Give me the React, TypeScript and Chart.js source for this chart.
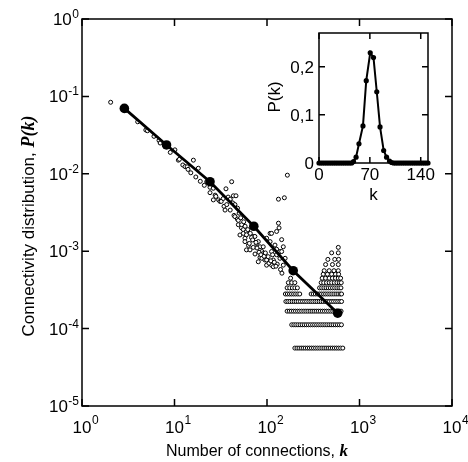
import { useEffect, useRef } from "react";
import { Chart, registerables } from "chart.js";
Chart.register(...registerables);

const W = 468;
const H = 462;

// ---------- main panel data ----------
const xTickVals = [1, 10, 100, 1000, 10000];
const xTickExp = ["0", "1", "2", "3", "4"];
const yTickVals = [1, 0.1, 0.01, 0.001, 0.0001, 0.00001];
const yTickExp = ["0", "-1", "-2", "-3", "-4", "-5"];

// binned fit (large dots joined by line)
const fitK = [2.87, 8.2, 24.2, 72, 192, 581];
const fitP = [0.07, 0.0236, 0.0079, 0.0021, 0.00056, 0.000158];

// individual degrees (small open circles)
const scatterK = [
  2.04, 3, 4, 4.9, 5.1, 6, 6.8, 7, 9, 10.1, 11, 11.3, 12.3, 13, 13.7, 14, 15, 16, 17, 18.1, 19, 21, 22.3,
  24.2, 24.2, 26.3, 26.3, 27.5, 28, 30, 31, 32, 33.7, 34.3, 35.2, 36, 36.7, 39.8, 40, 41.5, 42.6, 43.3,
  44, 45, 46.2, 47.8, 49, 49, 51, 53, 53.2, 55.5, 55.5, 57.8, 57.8, 60, 60, 60, 63, 64.4, 65.5, 71, 71.1,
  74, 74.2, 77, 80.5, 80.5, 84, 84, 88, 88, 91, 91, 95, 99, 99, 99, 103, 108, 108, 112, 112, 112, 117, 117,
  122, 127, 127, 127, 129, 133, 133, 135, 138, 138, 144, 144, 150, 150, 154, 157, 166,
  38, 40, 45, 48, 50, 52, 56, 58, 62, 66, 68, 70, 76, 78, 82, 86, 93, 96, 105, 110, 115, 120, 125, 140, 145,
];
const scatterP = [
  0.084, 0.066, 0.047, 0.0368, 0.036, 0.0305, 0.027, 0.025, 0.0189, 0.0204, 0.015, 0.0154, 0.013, 0.0124,
  0.0123, 0.0114, 0.0103, 0.015, 0.0091, 0.0118, 0.008, 0.0071, 0.0079, 0.0067, 0.0057, 0.0046, 0.0065,
  0.0053, 0.0051, 0.0046, 0.0044, 0.0044, 0.0048, 0.0038, 0.0034, 0.0064, 0.004, 0.0046, 0.0034, 0.0079,
  0.0042, 0.0052, 0.0029, 0.0028, 0.0052, 0.0026, 0.0022, 0.0025, 0.00162, 0.002, 0.0022, 0.0019, 0.0017,
  0.00147, 0.00133, 0.0018, 0.00163, 0.00104, 0.00119, 0.00126, 0.00104, 0.00155, 0.00112, 0.00155,
  0.00092, 0.00126, 0.00073, 0.00133, 0.00083, 0.00114, 0.00099, 0.00081, 0.00114, 0.00093, 0.00077,
  0.00066, 0.00147, 0.00077, 0.00085, 0.00133, 0.0017, 0.00099, 0.0017, 0.00066, 0.00063, 0.00077, 0.0012,
  0.00106, 0.0018, 0.0009, 0.00068, 0.0023, 0.0047, 0.002, 0.00081, 0.00099, 0.00099, 0.00141, 0.00066,
  0.00114, 0.0049, 0.00081, 0.0096,
  0.005, 0.0047, 0.004, 0.0036, 0.0031, 0.0027, 0.0024, 0.0021, 0.0019, 0.0017, 0.0015, 0.0014, 0.0013,
  0.0011, 0.00097, 0.0009, 0.00086, 0.00095, 0.0007, 0.00075, 0.0009, 0.00072, 0.00064, 0.00058, 0.00052,
];

// horizontal bands at large k: one, two, three ... nodes per degree
const rowP = [
  5.6e-5, 1.12e-4, 1.68e-4, 2.24e-4, 2.8e-4, 3.36e-4, 3.92e-4, 4.48e-4, 5.04e-4, 5.6e-4, 6.72e-4, 7.84e-4,
  9.52e-4, 1.12e-3,
];
const rowK = [
  [200, 211, 222, 234, 246, 259, 273, 287, 302, 318, 335, 353, 372, 392, 413, 435, 458, 482, 508, 535, 563, 593, 625, 660],
  [185, 195, 205, 216, 228, 240, 253, 266, 280, 295, 311, 327, 344, 362, 381, 401, 422, 444, 468, 493, 519, 547, 576, 606, 638],
  [165, 174, 183, 193, 203, 214, 225, 237, 250, 263, 277, 292, 307, 323, 340, 358, 377, 397, 418, 440, 463, 488, 514, 541, 570, 600, 632],
  [160, 168, 177, 187, 197, 207, 218, 230, 242, 255, 268, 283, 298, 313, 330, 347, 366, 385, 405, 427, 449, 473, 498, 524, 552, 581, 612, 640],
  [158, 166, 175, 184, 194, 204, 215, 226, 300, 316, 333, 350, 369, 388, 409, 430, 453, 477, 502, 529, 557, 586, 617, 640],
  [165, 176, 188, 200, 213, 370, 390, 412, 435, 459, 484, 511, 539, 569, 600, 630],
  [170, 185, 200, 385, 410, 440, 470, 500, 535, 570, 605, 635],
  [180, 395, 430, 470, 510, 550, 590, 625],
  [405, 450, 500, 550, 595],
  [415, 470, 530, 590],
  [430, 510, 590],
  [455, 540, 595],
  [500, 590],
  [590],
];

// ---------- inset data ----------
const insetK = [
  0, 2.5, 5, 7.5, 10, 12.5, 15, 17.5, 20, 22.5, 25, 27.5, 30, 32.5, 35, 37.5, 40, 42.5, 45, 47.5, 51, 55,
  60.5, 65, 70.5, 75, 79.5, 84, 89, 93, 97, 100, 102.5, 105, 107.5, 110, 112.5, 115, 117.5, 120, 122.5,
  125, 127.5, 130, 132.5, 135, 137.5, 140, 142.5, 145, 147.5, 150,
];
const insetP = [
  0, 0, 0, 0, 0, 0, 0, 0, 0, 0, 0, 0, 0, 0, 0, 0, 0, 0, 0, 0.003, 0.012, 0.04, 0.077, 0.171, 0.229, 0.219,
  0.148, 0.075, 0.026, 0.012, 0.004, 0.001, 0, 0, 0, 0, 0, 0, 0, 0, 0, 0, 0, 0, 0, 0, 0, 0, 0, 0, 0, 0,
];
const insetXTicks = [0, 70, 140];
const insetYTicks = [0, 0.1, 0.2];
const insetYLabels = ["0", "0,1", "0,2"];

const SANS = '"Liberation Sans", Arial, Helvetica, sans-serif';
const SERIF = '"Liberation Serif", "Times New Roman", serif';

const mainDecor = {
  id: "mainDecor",
  afterDraw(chart: any) {
    const { ctx, chartArea: a, scales } = chart;
    const x = scales.x;
    const y = scales.y;
    ctx.save();
    ctx.strokeStyle = "#000";
    ctx.fillStyle = "#000";
    ctx.lineWidth = 1.5;
    ctx.strokeRect(a.left, a.top, a.right - a.left, a.bottom - a.top);
    const tl = 7;
    ctx.beginPath();
    xTickVals.forEach((v) => {
      const px = x.getPixelForValue(v);
      ctx.moveTo(px, a.bottom);
      ctx.lineTo(px, a.bottom - tl);
      ctx.moveTo(px, a.top);
      ctx.lineTo(px, a.top + tl);
    });
    yTickVals.forEach((v) => {
      const py = y.getPixelForValue(v);
      ctx.moveTo(a.left, py);
      ctx.lineTo(a.left + tl, py);
      ctx.moveTo(a.right, py);
      ctx.lineTo(a.right - tl, py);
    });
    ctx.stroke();

    const base = `17px ${SANS}`;
    const sup = `12px ${SANS}`;
    ctx.textBaseline = "alphabetic";
    xTickVals.forEach((v, i) => {
      const px = x.getPixelForValue(v);
      ctx.font = base;
      const w = ctx.measureText("10").width;
      ctx.textAlign = "center";
      ctx.fillText("10", px, a.bottom + 27);
      ctx.font = sup;
      ctx.textAlign = "left";
      ctx.fillText(xTickExp[i], px + w / 2 + 0.5, a.bottom + 18);
    });
    yTickVals.forEach((v, i) => {
      const py = y.getPixelForValue(v);
      ctx.font = sup;
      const we = ctx.measureText(yTickExp[i]).width;
      ctx.textAlign = "right";
      ctx.fillText(yTickExp[i], a.left - 3, py - 1);
      ctx.font = base;
      ctx.fillText("10", a.left - 3 - we - 0.5, py + 6);
    });

    // x title
    const t1 = "Number of connections, ";
    const t2 = "k";
    ctx.font = `16px ${SANS}`;
    const w1 = ctx.measureText(t1).width;
    ctx.font = `bold italic 17px ${SERIF}`;
    const w2 = ctx.measureText(t2).width;
    let sx = 257 - (w1 + w2) / 2;
    ctx.textAlign = "left";
    ctx.font = `16px ${SANS}`;
    ctx.fillText(t1, sx, 456);
    ctx.font = `bold italic 17px ${SERIF}`;
    ctx.fillText(t2, sx + w1, 456);

    // y title
    const s1 = "Connectivity distribution, ";
    const s2 = "P(k)";
    ctx.translate(34, 226);
    ctx.rotate(-Math.PI / 2);
    ctx.font = `17px ${SANS}`;
    const v1 = ctx.measureText(s1).width;
    ctx.font = `bold italic 18px ${SERIF}`;
    const v2 = ctx.measureText(s2).width;
    sx = -(v1 + v2) / 2;
    ctx.font = `17px ${SANS}`;
    ctx.fillText(s1, sx, 0);
    ctx.font = `bold italic 18px ${SERIF}`;
    ctx.fillText(s2, sx + v1, 0);
    ctx.restore();
  },
};

const insetDecor = {
  id: "insetDecor",
  afterDraw(chart: any) {
    const { ctx, chartArea: a, scales } = chart;
    const x = scales.x;
    const y = scales.y;
    ctx.save();
    ctx.strokeStyle = "#000";
    ctx.fillStyle = "#000";
    ctx.lineWidth = 1.5;
    ctx.strokeRect(a.left, a.top, a.right - a.left, a.bottom - a.top);
    const tl = 6;
    ctx.beginPath();
    insetXTicks.forEach((v) => {
      const px = x.getPixelForValue(v);
      ctx.moveTo(px, a.bottom);
      ctx.lineTo(px, a.bottom - tl);
      ctx.moveTo(px, a.top);
      ctx.lineTo(px, a.top + tl);
    });
    insetYTicks.forEach((v) => {
      const py = y.getPixelForValue(v);
      ctx.moveTo(a.left, py);
      ctx.lineTo(a.left + tl, py);
      ctx.moveTo(a.right, py);
      ctx.lineTo(a.right - tl, py);
    });
    ctx.stroke();
    ctx.font = `17px ${SANS}`;
    ctx.textBaseline = "alphabetic";
    ctx.textAlign = "center";
    insetXTicks.forEach((v) => {
      ctx.fillText(String(v), x.getPixelForValue(v), a.bottom + 17);
    });
    ctx.textAlign = "right";
    insetYTicks.forEach((v, i) => {
      ctx.fillText(insetYLabels[i], a.left - 5, y.getPixelForValue(v) + 6);
    });
    ctx.textAlign = "center";
    ctx.fillText("k", (a.left + a.right) / 2, a.bottom + 37);
    ctx.translate(a.left - 39, a.top + 64);
    ctx.rotate(-Math.PI / 2);
    ctx.fillText("P(k)", 0, 0);
    ctx.restore();
  },
};

const openPt = {
  pointRadius: 2,
  pointBorderWidth: 1,
  pointBorderColor: "#000",
  pointBackgroundColor: "#fff",
  showLine: false,
  clip: false as const,
};

export default function App() {
  const mainRef = useRef<HTMLCanvasElement>(null);
  const insetRef = useRef<HTMLCanvasElement>(null);

  useEffect(() => {
    const datasets: any[] = [
      {
        type: "line",
        data: fitK.map((k, i) => ({ x: k, y: fitP[i] })),
        borderColor: "#000",
        borderWidth: 2.8,
        pointRadius: 4.8,
        pointBorderWidth: 0,
        pointBackgroundColor: "#000",
        showLine: true,
        clip: false,
      },
      { data: scatterK.map((k, i) => ({ x: k, y: scatterP[i] })), ...openPt },
    ];
    rowK.forEach((ks, r) => {
      datasets.push({ data: ks.map((k) => ({ x: k, y: rowP[r] })), ...openPt });
    });

    const main = new Chart(mainRef.current as HTMLCanvasElement, {
      type: "scatter",
      data: { datasets },
      options: {
        animation: false,
        responsive: false,
        devicePixelRatio: 1,
        events: [],
        layout: { padding: { left: 82, right: 16, top: 19, bottom: 56 } },
        plugins: { legend: { display: false }, tooltip: { enabled: false } },
        scales: {
          x: { type: "logarithmic", min: 1, max: 10000, display: false },
          y: { type: "logarithmic", min: 0.00001, max: 1, display: false },
        },
      },
      plugins: [mainDecor],
    } as any);

    const inset = new Chart(insetRef.current as HTMLCanvasElement, {
      type: "line",
      data: {
        datasets: [
          {
            data: insetK.map((k, i) => ({ x: k, y: insetP[i] })),
            borderColor: "#000",
            borderWidth: 2,
            pointRadius: 2.6,
            pointBorderWidth: 0,
            pointBackgroundColor: "#000",
            tension: 0,
            clip: false,
          },
        ],
      },
      options: {
        animation: false,
        responsive: false,
        devicePixelRatio: 1,
        events: [],
        layout: { padding: { left: 319, right: 40, top: 33, bottom: 299 } },
        plugins: { legend: { display: false }, tooltip: { enabled: false } },
        scales: {
          x: { type: "linear", min: 0, max: 150, display: false },
          y: { type: "linear", min: 0, max: 0.27, display: false },
        },
      },
      plugins: [insetDecor],
    } as any);

    return () => {
      main.destroy();
      inset.destroy();
    };
  }, []);

  const cs: any = { position: "absolute", left: 0, top: 0, width: W, height: H };
  return (
    <div style={{ position: "fixed", left: 0, top: 0, width: W, height: H, background: "#fff" }}>
      <canvas ref={mainRef} width={W} height={H} style={cs} />
      <canvas ref={insetRef} width={W} height={H} style={cs} />
    </div>
  );
}
